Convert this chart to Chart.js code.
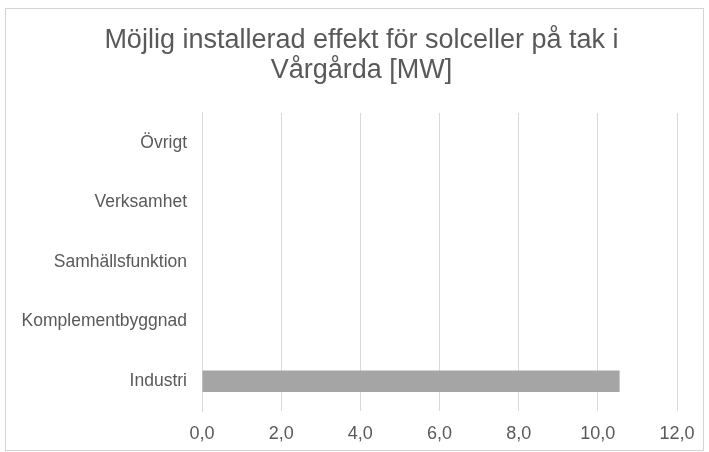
<!DOCTYPE html>
<html>
<head>
<meta charset="utf-8">
<script src="https://cdn.jsdelivr.net/npm/chart.js@4/dist/chart.umd.min.js"></script>
<style>
  html, body { margin: 0; padding: 0; background: #ffffff; }
</style>
</head>
<body>
<canvas id="effekt" width="709" height="452"></canvas>
<script>
// kategorier (uppifrån och ned) och effekt i MW
const kategorier = ['Övrigt', 'Verksamhet', 'Samhällsfunktion', 'Komplementbyggnad', 'Industri'];
const effektMW = [0, 0, 0, 0, 10.55];
const titelRader = ['Möjlig installerad effekt för solceller på tak i', 'Vårgårda [MW]'];
const axelMin = 0;
const axelMax = 12;
const axelSteg = 2;

const textFarg = '#595959';
const fontFamilj = '"Liberation Sans", Arial, sans-serif';

// ram runt hela diagrammet
const ram = {
  id: 'ram',
  beforeDraw(chart) {
    const c = chart.ctx;
    c.save();
    c.fillStyle = '#ffffff';
    c.fillRect(0, 0, chart.width, chart.height);
    c.strokeStyle = '#d4d4d4';
    c.lineWidth = 1;
    c.strokeRect(5.5, 8.5, 698, 442);
    c.restore();
  }
};

const ctx = document.getElementById('effekt').getContext('2d');
const diagram = new Chart(ctx, {
  type: 'bar',
  data: {
    labels: kategorier,
    datasets: [{
      data: effektMW,
      backgroundColor: '#a5a5a5',
      borderWidth: 0,
      categoryPercentage: 1,
      barPercentage: 0.36
    }]
  },
  options: {
    indexAxis: 'y',
    responsive: false,
    animation: false,
    layout: { padding: { left: 14, right: 0, top: 0, bottom: 0 } },
    plugins: {
      legend: { display: false },
      tooltip: { enabled: false },
      title: {
        display: true,
        text: titelRader,
        color: textFarg,
        font: { family: fontFamilj, size: 27, weight: 'normal', lineHeight: 1.11 },
        padding: { top: 26, bottom: 27 }
      }
    },
    scales: {
      x: {
        min: axelMin,
        max: axelMax,
        afterFit(s) {
          s.height = 41;
          s.paddingRight = 32; // luft till höger om 12,0
        },
        ticks: {
          stepSize: axelSteg,
          maxRotation: 0,
          color: textFarg,
          font: { family: fontFamilj, size: 18 },
          padding: 12,
          callback: v => v.toFixed(1).replace('.', ',')
        },
        grid: { color: '#d9d9d9', lineWidth: 1, drawTicks: false },
        border: { display: false }
      },
      y: {
        afterFit(s) { s.width = 188; },
        ticks: {
          color: textFarg,
          font: { family: fontFamilj, size: 17.5 },
          padding: 15
        },
        grid: { display: false, drawTicks: false },
        border: { display: true, color: '#d9d9d9', width: 1 }
      }
    }
  },
  plugins: [ram]
});
</script>
</body>
</html>
